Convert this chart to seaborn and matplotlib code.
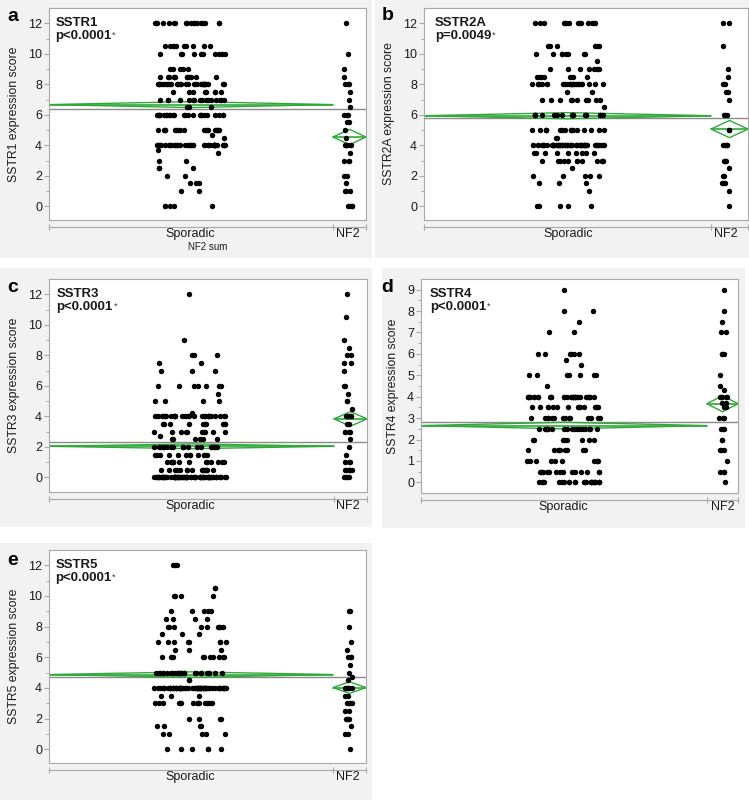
import numpy as np
import pandas as pd
import matplotlib
matplotlib.use("Agg")
import matplotlib.pyplot as plt
import seaborn as sns
from matplotlib.patches import Rectangle, Polygon

# ---------------- data ----------------
letters = ['a', 'b', 'c', 'd', 'e']
receptors = ['SSTR1', 'SSTR2A', 'SSTR3', 'SSTR4', 'SSTR5']
p_values = ['p<0.0001', 'p=0.0049', 'p<0.0001', 'p<0.0001', 'p<0.0001']
groups = ['Sporadic', 'NF2']

# sporadic tumours: score levels and number of dots at each level
spor1_levels = [12, 10.5, 10, 9, 8.5, 8, 7.5, 7, 6.5, 6, 5, 4.7, 4.5, 4, 3.7, 3.5, 3, 2.5, 2, 1.5, 1, 0]
spor1_counts = [18, 10, 10, 5, 12, 30, 8, 16, 3, 25, 18, 1, 1, 40, 1, 1, 2, 3, 2, 3, 2, 5]
spor2_levels = [12, 10.5, 10, 9.5, 9, 8.5, 8, 7.5, 7, 6.5, 6, 5, 4.5, 4, 3.5, 3, 2.5, 2, 1.5, 1, 0]
spor2_counts = [14, 6, 8, 1, 7, 7, 24, 2, 10, 1, 18, 16, 2, 55, 9, 12, 1, 5, 3, 1, 5]
spor3_levels = [12, 9, 8, 7.5, 7, 6, 5.5, 5, 4.2, 4, 3.5, 3, 2.7, 2.5, 2, 1.5, 1, 0.5, 0]
spor3_counts = [1, 1, 3, 2, 3, 7, 1, 4, 1, 28, 10, 10, 1, 6, 18, 12, 14, 15, 70]
spor4_levels = [9, 8, 7.5, 7, 6, 5.7, 5.5, 5, 4.5, 4, 3.5, 3, 2.5, 2, 1.5, 1, 0.5, 0]
spor4_counts = [1, 2, 1, 2, 6, 1, 1, 7, 1, 30, 15, 14, 17, 8, 9, 10, 15, 25]
spor5_levels = [12, 10.5, 10, 9, 8.5, 8, 7.5, 7, 6.5, 6, 5, 4.5, 4, 3.5, 3, 2, 1.5, 1, 0]
spor5_counts = [3, 2, 4, 5, 4, 9, 3, 8, 3, 10, 28, 2, 65, 3, 14, 4, 4, 5, 6]

# NF2 tumours: individual scores
nf2_1 = [12, 10, 9, 8.5, 8, 8, 8, 7.5, 7, 6.5, 6, 6, 6, 5.5, 5.5, 5, 4.5,
         4, 4, 4, 4, 4, 4, 3.5, 3, 3, 3, 2, 2, 1.5, 1, 1, 1, 0, 0, 0, 0]
nf2_2 = [12, 12, 10.5, 9, 8.5, 8, 8, 7.5, 7.5, 7, 6, 6, 6, 5, 5, 4, 4, 4, 4, 4,
         3, 3, 3, 3, 2.5, 2, 2, 1.5, 1.5, 1.5, 1, 0]
nf2_3 = [12, 10.5, 9, 8.5, 8, 8, 7.5, 7.5, 7, 6, 6, 5.5, 5, 5, 4.5, 4, 4, 4, 4, 4, 4,
         3.5, 3.5, 3, 3, 3, 3, 2.5, 2, 1.5, 1, 1, 1, 0.5, 0.5, 0.5, 0.5, 0.5, 0.5, 0, 0, 0, 0]
nf2_4 = [9, 8, 7.5, 7, 7, 6, 6, 6, 5, 4.5, 4.3, 4, 4, 4, 4, 4, 3.7, 3.7, 3.5, 3.5,
         3, 3, 3, 2.5, 2.5, 2.5, 2, 2, 1.5, 1.5, 1.5, 1, 0.5, 0.5, 0.5, 0]
nf2_5 = [9, 9, 8, 7, 6.5, 6, 6, 6, 5.5, 5, 4.7, 4.5, 4, 4, 4, 4, 4, 4, 3.5, 3.5,
         3, 3, 3, 3, 2.5, 2.5, 2, 2, 2, 2, 1.5, 1, 1, 0]

spor_levels = [spor1_levels, spor2_levels, spor3_levels, spor4_levels, spor5_levels]
spor_counts = [spor1_counts, spor2_counts, spor3_counts, spor4_counts, spor5_counts]
nf2_scores = [nf2_1, nf2_2, nf2_3, nf2_4, nf2_5]

# ---------------- layout (pixels of a 749x800 canvas) ----------------
W, H = 749, 800
# grey panel boxes: x0, y0, x1, y1
boxes = [(0, 0, 372, 258), (375, 0, 749, 258), (0, 268, 372, 527),
         (382, 268, 745, 528), (0, 543, 372, 800)]
# plot frames: x0, y0, x1, y1
frames = [(49, 8, 366, 220), (424, 8, 748, 220), (49, 279, 367, 492),
          (421, 279, 738, 493), (49, 550, 366, 763)]
# x position (px) of the Sporadic centre, NF2 centre and the group divider
centres = [(190, 348, 333), (568, 726, 711), (190, 348, 334),
           (563, 723, 707), (190, 348, 333)]
letter_pos = [(7, 21), (382, 20), (7, 292), (381, 292), (7, 565)]
title_dx = [4.5, 8, 5.5, 6.5, 4.5]
ylims = [(-0.9, 13), (-0.9, 13), (-0.95, 13), (-0.5, 9.5), (-0.9, 13)]

green = '#2fa83a'
frame_c = '#a9a9a9'
bg_c = '#f2f2f2'

sns.set_style('white')
plt.rcParams['font.family'] = ['Liberation Sans', 'DejaVu Sans']

fig = plt.figure(figsize=(W / 100, H / 100), dpi=100)
fig.patch.set_facecolor('white')

# light grey panel backgrounds
for x0, y0, x1, y1 in boxes:
    fig.patches.append(Rectangle((x0 / W, 1 - y1 / H), (x1 - x0) / W, (y1 - y0) / H,
                                 transform=fig.transFigure, fc=bg_c, ec='none', zorder=-10))

np.random.seed(3)

for i in range(5):
    x0, y0, x1, y1 = frames[i]
    ax = fig.add_axes([x0 / W, 1 - y1 / H, (x1 - x0) / W, (y1 - y0) / H])
    ax.set_facecolor('white')

    spor = np.repeat(spor_levels[i], spor_counts[i])
    nf2 = np.array(nf2_scores[i], dtype=float)
    df = pd.DataFrame({'group': ['Sporadic'] * len(spor) + ['NF2'] * len(nf2),
                       'score': np.concatenate([spor, nf2])})

    # jittered dots, wide band for the big group, narrow for NF2
    sns.stripplot(data=df[df['group'] == 'Sporadic'], x='group', y='score', order=groups,
                  jitter=0.23, color='black', size=3.9, linewidth=0, ax=ax, zorder=3)
    sns.stripplot(data=df[df['group'] == 'NF2'], x='group', y='score', order=groups,
                  jitter=0.025, color='black', size=3.9, linewidth=0, ax=ax, zorder=3)

    # data coordinates of the frame and group bands
    cs, cn, cd = centres[i]
    unit = cn - cs
    left = (x0 - cs) / unit
    right = 1 + (x1 - cn) / unit
    divider = 1 + (cd - cn) / unit
    ax.set_xlim(left, right)
    ax.set_ylim(*ylims[i])

    # grand mean line
    ax.axhline(df['score'].mean(), color='#8a8a8a', lw=1.0, zorder=2)

    # means diamonds
    for vals, (bl, br) in [(spor, (left, divider)), (nf2, (divider, right))]:
        m = vals.mean()
        se = vals.std(ddof=1) / np.sqrt(len(vals))
        bc = (bl + br) / 2
        ax.add_patch(Polygon([(bl, m), (bc, m + se), (br, m), (bc, m - se)], closed=True,
                             fill=False, ec=green, lw=1.0, zorder=2))
        ax.plot([bl, br], [m, m], color=green, lw=1.2, zorder=2)

    # frame and the detached category axis below it
    for s in ax.spines.values():
        s.set_color(frame_c)
        s.set_linewidth(0.8)
    ax.spines['bottom'].set_position(('outward', 5))
    ax.plot([0, 1], [0, 0], transform=ax.transAxes, color=frame_c, lw=0.8, clip_on=False)

    ax.set_xticks([left + 1e-6, divider, right - 1e-6], labels=['', '', ''])
    ax.set_xticks([0, 1], labels=groups, minor=True)
    ax.tick_params(axis='x', which='major', direction='inout', length=5, width=0.8,
                   color=frame_c, bottom=True)
    ax.tick_params(axis='x', which='minor', length=0, pad=1.0, labelsize=9, colors='#1a1a1a',
                   bottom=True)

    if ylims[i][1] > 10:
        ax.set_yticks(np.arange(0, 13, 2))
        ax.set_yticks(np.arange(1, 13, 2), minor=True)
    else:
        ax.set_yticks(np.arange(0, 10, 1))
        ax.set_yticks(np.arange(0.5, 9.5, 1), minor=True)
    ax.tick_params(axis='y', which='major', direction='out', length=3.5, width=0.8,
                   color=frame_c, labelsize=9, pad=1.5, labelcolor='#1a1a1a', left=True)
    ax.tick_params(axis='y', which='minor', direction='out', length=2, width=0.7,
                   color=frame_c, left=True)

    ax.set_ylabel(receptors[i] + ' expression score', fontsize=8.8, color='#1a1a1a', labelpad=6)
    if i == 0:
        ax.set_xlabel('NF2 sum', fontsize=7, color='#1a1a1a', labelpad=1.5)
    else:
        ax.set_xlabel('')

    # receptor name and p value in the top-left corner
    ax.annotate(receptors[i], xy=(0, 1), xycoords='axes fraction', xytext=(title_dx[i], -6.5),
                textcoords='offset points', ha='left', va='top', fontsize=9.5,
                fontweight='bold', color='#1a1a1a')
    pt = ax.annotate(p_values[i], xy=(0, 1), xycoords='axes fraction',
                     xytext=(title_dx[i], -16), textcoords='offset points', ha='left',
                     va='top', fontsize=9.5, fontweight='bold', color='#1a1a1a')
    ax.annotate('*', xy=(1, 1), xycoords=pt, xytext=(0.5, -0.5), textcoords='offset points',
                ha='left', va='top', fontsize=6.5, color='#333333')

    # panel letter
    lx, ly = letter_pos[i]
    fig.text(lx / W, 1 - ly / H, letters[i], fontsize=14, fontweight='bold',
             ha='left', va='baseline', color='black')

fig.savefig('out.png', dpi=100)
